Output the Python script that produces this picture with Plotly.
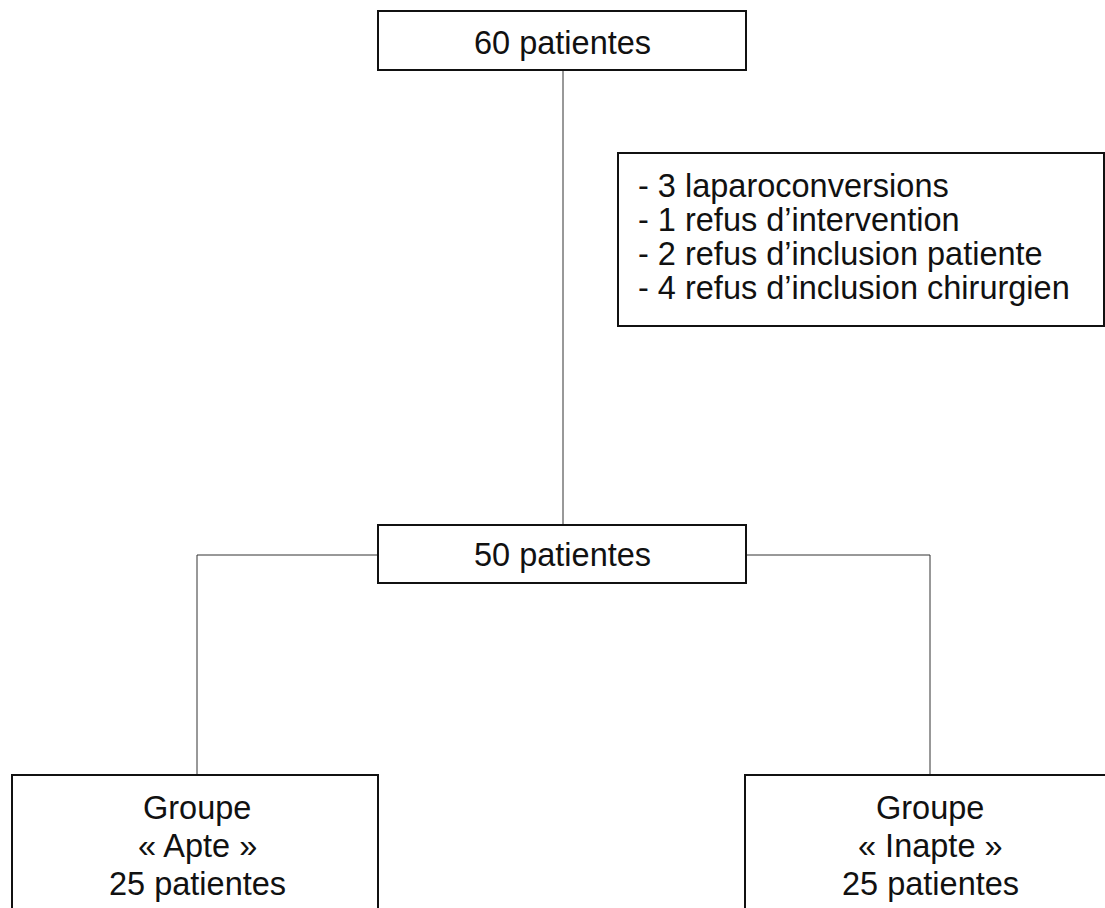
import plotly.graph_objects as go

# ---- data ----
total_patients = 60
included_patients = 50
exclusion_counts = [3, 1, 2, 4]
exclusion_reasons = ["laparoconversions", "refus d\u2019intervention",
                     "refus d\u2019inclusion patiente", "refus d\u2019inclusion chirurgien"]
group_names = ["Apte", "Inapte"]
group_counts = [25, 25]

# ---- layout geometry (pixels, y downward) ----
W, H = 1105, 908
FONT = "Liberation Sans, Arial, sans-serif"
FS = 32.5
BOX_LINE = dict(color="#111111", width=2)
CONN_LINE = dict(color="#333333", width=1)

top_box = (378, 11, 746, 70)
mid_box = (378, 525, 746, 583)
side_box = (618, 153, 1104, 326)
bottom_boxes = [(12, 775, 378, 930), (745, 775, 1120, 930)]
branch_x = [197, 930]
branch_y = 555
centre_x = 563

fig = go.Figure()
shapes = []
annotations = []

def box(b):
    shapes.append(dict(type="rect", xref="x", yref="y", x0=b[0], y0=b[1], x1=b[2], y1=b[3],
                       line=BOX_LINE, fillcolor="rgba(0,0,0,0)", layer="above"))

def seg(x0, y0, x1, y1):
    shapes.append(dict(type="line", xref="x", yref="y", x0=x0, y0=y0, x1=x1, y1=y1,
                       line=CONN_LINE, layer="below"))

def text(x, y, s, anchor="center"):
    annotations.append(dict(x=x, y=y, xref="x", yref="y", text=s, showarrow=False,
                            xanchor=anchor, yanchor="middle",
                            font=dict(family=FONT, size=FS, color="#111111")))

# connectors
seg(centre_x, top_box[3], centre_x, mid_box[1])
seg(branch_x[0], branch_y, mid_box[0], branch_y)
seg(mid_box[2], branch_y, branch_x[1], branch_y)
for bx in branch_x:
    seg(bx, branch_y, bx, bottom_boxes[0][1])

# boxes
box(top_box)
box(mid_box)
box(side_box)
for b in bottom_boxes:
    box(b)

# texts
text((top_box[0] + top_box[2]) / 2, 43, f"{total_patients} patientes")
text((mid_box[0] + mid_box[2]) / 2, 555, f"{included_patients} patientes")
for i, (n, r) in enumerate(zip(exclusion_counts, exclusion_reasons)):
    text(636, 186 + i * 34, f"- {n} {r}", anchor="left")
for bx, g, n in zip(branch_x, group_names, group_counts):
    text(bx, 808, "Groupe")
    text(bx, 846, f"\u00ab {g} \u00bb")
    text(bx, 884, f"{n} patientes")

fig.update_layout(
    width=W, height=H,
    margin=dict(l=0, r=0, t=0, b=0),
    paper_bgcolor="white", plot_bgcolor="white",
    xaxis=dict(range=[0, W], visible=False, fixedrange=True),
    yaxis=dict(range=[H, 0], visible=False, fixedrange=True),
    shapes=shapes, annotations=annotations, showlegend=False,
)
fig.write_html("out.html", config={"displayModeBar": False},
               post_script="document.body.style.margin='0px';document.body.style.overflow='hidden';")
